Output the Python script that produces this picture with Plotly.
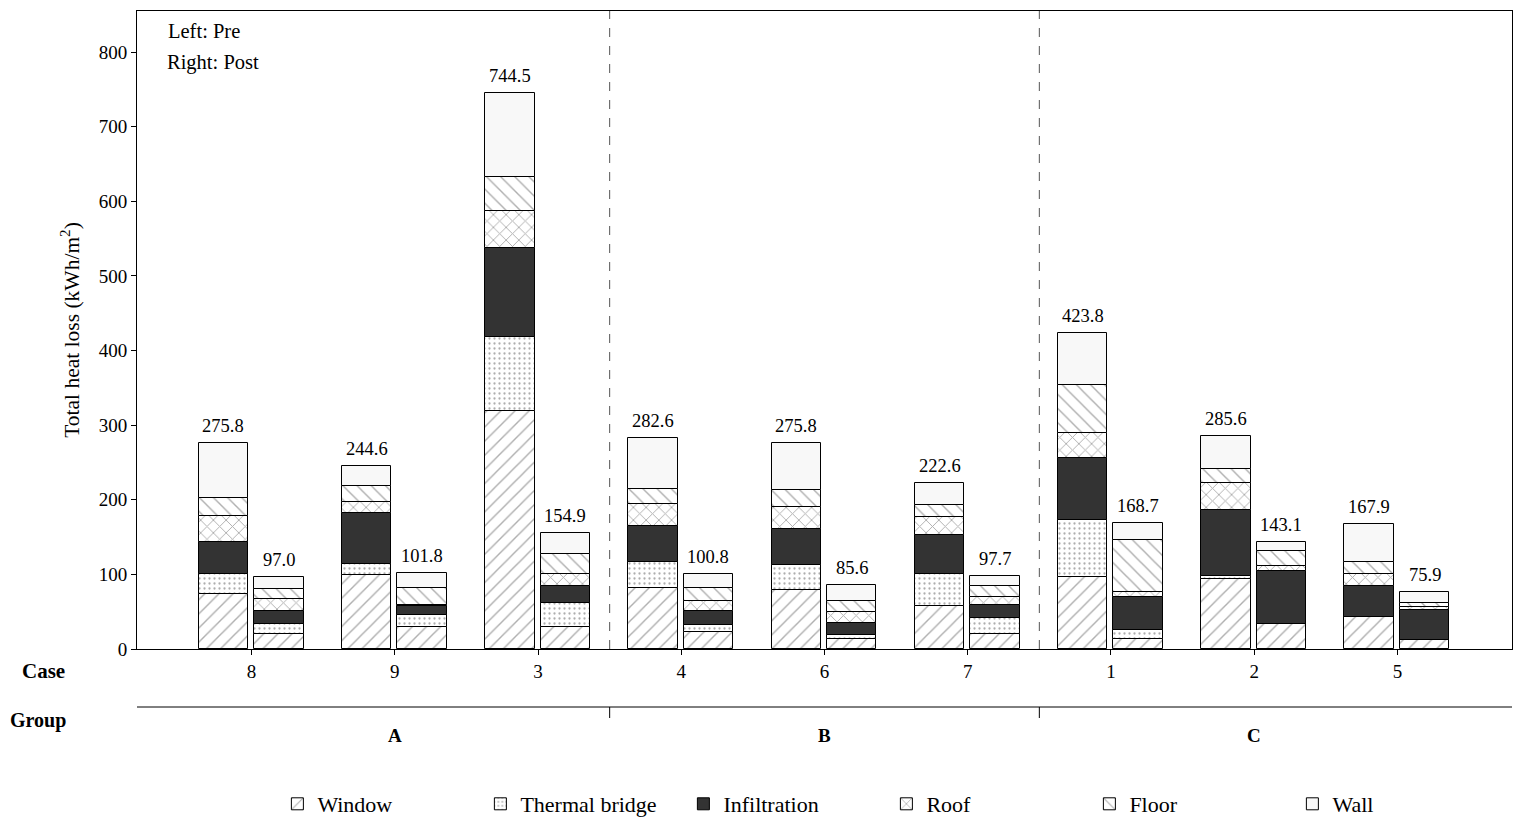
import plotly.graph_objects as go

cases = ["8", "9", "3", "4", "6", "7", "1", "2", "5"]
groups = ["A", "B", "C"]
group_centers = [1, 4, 7]
group_bounds = [2.5, 5.5]

components = ["Window", "Thermal bridge", "Infiltration", "Roof", "Floor", "Wall"]

pre_window = [73.5, 99.0, 319.0, 81.5, 78.9, 57.8, 95.9, 93.7, 43.0]
pre_thermal = [27.0, 14.8, 99.4, 34.5, 33.6, 42.6, 77.5, 4.0, 0.0]
pre_infil = [43.0, 68.0, 118.6, 49.3, 48.4, 52.4, 82.4, 88.7, 41.7]
pre_roof = [34.5, 14.8, 49.7, 29.2, 30.0, 23.7, 33.6, 35.8, 15.7]
pre_floor = [24.5, 22.3, 45.8, 20.1, 22.4, 16.6, 64.1, 19.3, 15.6]
pre_wall = [73.3, 25.7, 112.0, 68.0, 62.5, 29.5, 70.3, 44.1, 51.9]

post_window = [19.7, 30.0, 29.5, 23.3, 13.0, 19.7, 14.0, 33.2, 11.7]
post_thermal = [14.3, 15.2, 32.5, 8.5, 5.5, 22.4, 11.5, 0.0, 0.8]
post_infil = [17.0, 12.6, 22.5, 19.2, 16.0, 17.0, 44.5, 71.6, 40.0]
post_roof = [15.7, 1.2, 15.5, 13.5, 14.5, 10.8, 5.8, 6.8, 3.5]
post_floor = [13.4, 22.5, 27.5, 17.0, 15.0, 14.8, 70.4, 20.1, 6.0]
post_wall = [16.9, 20.3, 27.4, 19.3, 21.6, 13.0, 22.5, 11.4, 13.9]

pre_total = [275.8, 244.6, 744.5, 282.6, 275.8, 222.6, 423.8, 285.6, 167.9]
post_total = [97.0, 101.8, 154.9, 100.8, 85.6, 97.7, 168.7, 143.1, 75.9]

pre_data = [pre_window, pre_thermal, pre_infil, pre_roof, pre_floor, pre_wall]
post_data = [post_window, post_thermal, post_infil, post_roof, post_floor, post_wall]

HATCH = "#5e5e5e"
styles = {
    "Window": dict(color="white", pattern=dict(shape="/", fgcolor=HATCH, bgcolor="white", size=10, solidity=0.14)),
    "Thermal bridge": dict(color="white", pattern=dict(shape=".", fgcolor=HATCH, bgcolor="white", size=5, solidity=0.16)),
    "Infiltration": dict(color="#333333"),
    "Roof": dict(color="white", pattern=dict(shape="x", fgcolor=HATCH, bgcolor="white", size=9, solidity=0.2)),
    "Floor": dict(color="white", pattern=dict(shape="\\", fgcolor=HATCH, bgcolor="white", size=10, solidity=0.14)),
    "Wall": dict(color="#f8f8f8"),
}

FONT = "Liberation Serif"
PRE_OFF = -0.197
POST_OFF = 0.19
BAR_W = 0.345

x_pre = [i + PRE_OFF for i in range(len(cases))]
x_post = [i + POST_OFF for i in range(len(cases))]

fig = go.Figure()
for name, pre_vals, post_vals in zip(components, pre_data, post_data):
    st = styles[name]
    marker = dict(color=st["color"], line=dict(color="black", width=1))
    if "pattern" in st:
        marker["pattern"] = st["pattern"]
    fig.add_trace(go.Bar(
        x=x_pre + x_post,
        y=pre_vals + post_vals,
        width=BAR_W,
        name=name,
        marker=marker,
        hoverinfo="skip",
    ))

# page offset of 8px (browser body margin)
OFF = 8
W, H = 1527 - 2 * OFF, 825 - 2 * OFF
PLOT_L, PLOT_R, PLOT_T, PLOT_B = 137, 1512, 11, 649
L = PLOT_L - OFF
R = W - (PLOT_R - OFF)
T = PLOT_T - OFF
B = H - (PLOT_B - OFF)
pw = W - L - R
ph = H - T - B


def px(page_x):
    return (page_x - PLOT_L) / pw


def py(page_y):
    return (PLOT_B - page_y) / ph


shapes = []
for gb in group_bounds:
    shapes.append(dict(type="line", xref="x", yref="paper", x0=gb, x1=gb, y0=0, y1=1,
                       line=dict(color="#555555", width=1, dash="dash")))
    shapes.append(dict(type="line", xref="x", yref="paper", x0=gb, x1=gb, y0=py(707), y1=py(718),
                       line=dict(color="black", width=1)))
shapes.append(dict(type="line", xref="paper", yref="paper", x0=0, x1=1, y0=py(707), y1=py(707),
                   line=dict(color="black", width=1)))


def note(text, x, y, size, xref="paper"):
    return dict(text=text, xref=xref, yref="paper", x=x, y=y, xanchor="center", yanchor="middle",
                showarrow=False, font=dict(family=FONT, size=size, color="black"))


annotations = [
    note("<b>Case</b>", px(43), py(671), 21),
    note("<b>Group</b>", px(38), py(720), 20),
    note("Left: Pre", px(204), py(31), 20.5),
    note("Right: Post", px(213), py(63), 20.5),
]
for g, c in zip(groups, group_centers):
    annotations.append(note(f"<b>{g}</b>", c, py(736), 19, xref="x"))
for xv, tv in zip(x_pre + x_post, pre_total + post_total):
    annotations.append(dict(text=f"{tv:.1f}", xref="x", yref="y", x=xv, y=tv,
                            yanchor="bottom", yshift=5, showarrow=False,
                            font=dict(family=FONT, size=18.5, color="black")))

fig.update_layout(
    width=W, height=H,
    margin=dict(l=L, r=R, t=T, b=B, autoexpand=False),
    barmode="relative",
    plot_bgcolor="white",
    paper_bgcolor="white",
    font=dict(family=FONT, size=19, color="black"),
    shapes=shapes,
    annotations=annotations,
    legend=dict(orientation="h", x=0.545, xanchor="center", y=py(804), yanchor="middle",
                font=dict(family=FONT, size=22), entrywidth=158, entrywidthmode="pixels",
                traceorder="normal"),
    xaxis=dict(range=[-0.8, 8.8], tickvals=list(range(len(cases))), ticktext=cases,
               showline=True, linecolor="black", linewidth=1, mirror=True,
               ticks="outside", ticklen=5, tickcolor="black", showgrid=False, zeroline=False,
               tickfont=dict(family=FONT, size=19)),
    yaxis=dict(range=[0, 855], tickvals=[0, 100, 200, 300, 400, 500, 600, 700, 800],
               showline=True, linecolor="black", linewidth=1, mirror=True,
               ticks="outside", ticklen=5, tickcolor="black", showgrid=False, zeroline=False,
               tickfont=dict(family=FONT, size=19),
               title=dict(text="Total heat loss (kWh/m<sup>2</sup>)", font=dict(family=FONT, size=21.5),
                          standoff=13)),
    bargap=0,
)

fig.write_html("out.html")
